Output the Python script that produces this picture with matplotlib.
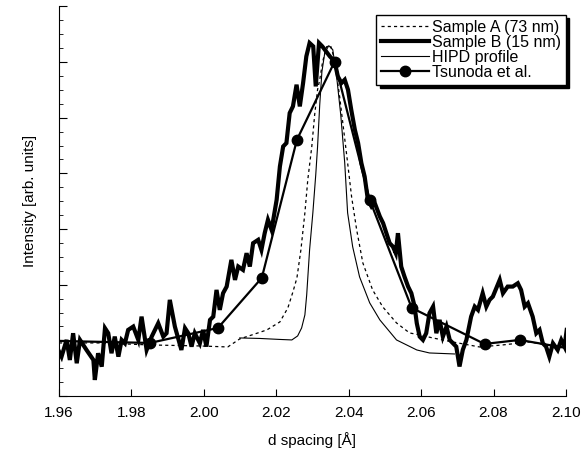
import matplotlib
matplotlib.use("Agg")
import matplotlib.pyplot as plt
from matplotlib.ticker import MultipleLocator

plt.rcParams['font.family'] = ['Liberation Sans', 'DejaVu Sans']

# Sample B (15 nm) - noisy thick curve
b_x = [1.9598, 1.9607, 1.9621, 1.9630, 1.9639, 1.9649, 1.9658, 1.9676, 1.9695, 1.9699,
       1.9708, 1.9718, 1.9727, 1.9736, 1.9745, 1.9754, 1.9764, 1.9773, 1.9782, 1.9791,
       1.9805, 1.9819, 1.9828, 1.9842, 1.9856, 1.9865, 1.9874, 1.9888, 1.9897, 1.9906,
       1.9920, 1.9938, 1.9948, 1.9957, 1.9966, 1.9975, 1.9989, 1.9998, 2.0007, 2.0017,
       2.0026, 2.0035, 2.0044, 2.0053, 2.0063, 2.0076, 2.0086, 2.0095, 2.0108, 2.0118,
       2.0127, 2.0136, 2.0150, 2.0159, 2.0168, 2.0177, 2.0187, 2.0201, 2.0210, 2.0219,
       2.0228, 2.0237, 2.0246, 2.0256, 2.0265, 2.0274, 2.0283, 2.0292, 2.0302, 2.0309,
       2.0318, 2.0327, 2.0348, 2.0361, 2.0370, 2.0380, 2.0389, 2.0398, 2.0407, 2.0417,
       2.0426, 2.0435, 2.0444, 2.0453, 2.0463, 2.0472, 2.0486, 2.0495, 2.0504, 2.0513,
       2.0522, 2.0530, 2.0536, 2.0545, 2.0554, 2.0564, 2.0573, 2.0582, 2.0588, 2.0596,
       2.0605, 2.0614, 2.0623, 2.0633, 2.0642, 2.0651, 2.0660, 2.0670, 2.0679, 2.0688,
       2.0697, 2.0706, 2.0715, 2.0725, 2.0738, 2.0748, 2.0757, 2.0770, 2.0780, 2.0789,
       2.0798, 2.0817, 2.0826, 2.0839, 2.0853, 2.0867, 2.0876, 2.0886, 2.0895, 2.0908,
       2.0918, 2.0927, 2.0936, 2.0945, 2.0954, 2.0964, 2.0977, 2.0987, 2.0996, 2.1002]
b_y = [0.827, 0.707, 1.007, 0.647, 1.128, 0.588, 1.007, 0.827, 0.647, 0.288,
       0.768, 0.527, 1.218, 1.128, 0.768, 1.067, 0.707, 1.007, 0.947, 1.187,
       1.247, 1.007, 1.426, 0.827, 1.067, 1.187, 1.307, 1.067, 1.128, 1.727,
       1.247, 0.827, 1.218, 1.128, 0.887, 1.128, 0.947, 1.187, 0.887, 1.367,
       1.426, 1.906, 1.547, 1.846, 1.966, 2.446, 2.086, 2.326, 2.266, 2.566,
       2.326, 2.746, 2.806, 2.626, 2.926, 3.165, 2.986, 3.525, 4.125, 4.484,
       4.545, 5.084, 5.204, 5.594, 5.204, 5.622, 6.103, 6.343, 6.283, 5.563,
       6.343, 6.283, 6.103, 6.013, 5.743, 5.624, 5.683, 5.504, 5.144, 4.784,
       4.545, 4.185, 3.944, 3.525, 3.405, 3.466, 3.225, 3.106, 2.926, 2.746,
       2.685, 2.566, 2.926, 2.325, 2.146, 1.966, 1.847, 1.606, 1.307, 1.067,
       1.007, 1.128, 1.487, 1.606, 1.128, 1.367, 1.067, 1.247, 1.007, 0.947,
       0.887, 0.530, 0.827, 1.007, 1.426, 1.606, 1.547, 1.847, 1.606, 1.727,
       1.786, 2.086, 1.847, 1.966, 1.966, 2.026, 1.906, 1.606, 1.667, 1.426,
       1.128, 1.187, 0.947, 0.887, 0.707, 0.947, 0.827, 1.007, 0.887, 1.187]

# Sample A (73 nm) - dashed
a_x = [1.9600, 1.9713, 1.9851, 1.9989, 2.0066, 2.0099, 2.0141, 2.0174, 2.0210, 2.0232,
       2.0246, 2.0257, 2.0268, 2.0279, 2.0287, 2.0298, 2.0306, 2.0314, 2.0320, 2.0328,
       2.0339, 2.0350, 2.0361, 2.0375, 2.0395, 2.0408, 2.0422, 2.0439, 2.0466, 2.0494,
       2.0532, 2.0568, 2.0596, 2.0632, 2.0687, 2.0761, 2.0825, 2.0899, 2.0946, 2.1000]
a_y = [0.953, 0.953, 0.917, 0.899, 0.881, 1.025, 1.115, 1.187, 1.331, 1.583,
       1.871, 2.122, 2.626, 3.291, 3.885, 4.478, 5.054, 5.504, 5.683, 6.007,
       6.277, 6.295, 6.043, 5.378, 4.299, 3.579, 2.986, 2.392, 1.906, 1.601,
       1.313, 1.133, 1.097, 1.043, 0.971, 0.881, 0.917, 0.971, 0.917, 0.863]

# HIPD profile - thin solid
h_x = [2.0099, 2.0154, 2.0210, 2.0243, 2.0259, 2.0270, 2.0279, 2.0284, 2.0292, 2.0301,
       2.0309, 2.0314, 2.0320, 2.0326, 2.0334, 2.0345, 2.0356, 2.0367, 2.0378, 2.0389,
       2.0397, 2.0411, 2.0430, 2.0458, 2.0486, 2.0532, 2.0588, 2.0623, 2.0692]
h_y = [1.043, 1.034, 1.016, 1.007, 1.079, 1.223, 1.457, 1.817, 2.626, 3.291,
       3.975, 4.478, 5.234, 5.827, 6.169, 6.295, 6.223, 5.719, 5.054, 4.191,
       3.291, 2.680, 2.140, 1.673, 1.367, 1.007, 0.827, 0.773, 0.755]

# Tsunoda et al. - line with circles
t_x = [1.9600, 1.9851, 2.0039, 2.0160, 2.0257, 2.0361, 2.0458, 2.0574, 2.0775, 2.0872, 2.1000]
t_y = [0.989, 0.953, 1.223, 2.122, 4.604, 6.007, 3.525, 1.583, 0.935, 1.007, 0.863]

x_ticks = [1.96, 1.98, 2.00, 2.02, 2.04, 2.06, 2.08, 2.10]
x_ticklabels = ['1.96', '1.98', '2.00', '2.02', '2.04', '2.06', '2.08', '2.10']

fig = plt.figure(figsize=(5.87, 4.54), dpi=100)
ax = fig.add_axes([0.1005, 0.1278, 0.8637, 0.858])

ax.plot(a_x, a_y, color='black', lw=0.9, ls=(0, (2.5, 2.5)), label='Sample A (73 nm)')
ax.plot(b_x, b_y, color='black', lw=3.0, solid_joinstyle='miter', label='Sample B (15 nm)')
ax.plot(h_x, h_y, color='black', lw=0.8, label='HIPD profile')
ax.plot(t_x, t_y, color='black', lw=1.6, marker='o', ms=7.5,
        markevery=list(range(1, len(t_x) - 1)), label='Tsunoda et al.')

ax.set_xlim(1.96, 2.10)
ax.set_ylim(0, 7)
ax.set_xticks(x_ticks)
ax.set_xticklabels(x_ticklabels)
ax.yaxis.set_major_locator(MultipleLocator(1))
ax.yaxis.set_minor_locator(MultipleLocator(0.25))
ax.set_yticklabels([])
ax.tick_params(axis='x', direction='in', length=5, width=0.8, labelsize=11, pad=7)
ax.tick_params(axis='y', which='major', direction='in', length=6, width=0.8)
ax.tick_params(axis='y', which='minor', direction='in', length=3, width=0.6)
for s in ['top', 'right']:
    ax.spines[s].set_visible(False)
for s in ['left', 'bottom']:
    ax.spines[s].set_linewidth(0.8)

ax.set_xlabel('d spacing [Å]', fontsize=11, labelpad=9)
ax.set_ylabel('Intensity [arb. units]', fontsize=11, labelpad=12)

leg = ax.legend(loc='upper right', bbox_to_anchor=(1.0, 0.978), borderaxespad=0,
                fontsize=11.5, frameon=True, fancybox=False,
                shadow={'color': 'black', 'alpha': 1.0, 'ox': 2.5, 'oy': -2.5},
                handlelength=3.0, handletextpad=0.2, labelspacing=0.0,
                borderpad=0.3, edgecolor='black', framealpha=1.0)
leg.get_frame().set_linewidth(1.0)

fig.savefig('out.png', dpi=100)
